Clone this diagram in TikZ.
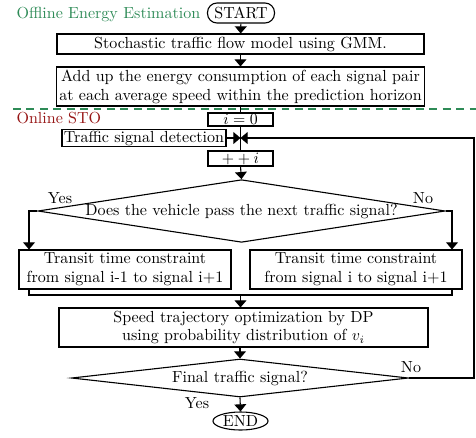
\documentclass[tikz,border=0pt]{standalone}
\usetikzlibrary{shapes.geometric,arrows.meta}
\definecolor{offgreen}{RGB}{46,139,87}
\definecolor{onred}{RGB}{150,20,20}
\def\pxu{0.633pt}
\begin{document}
\begin{tikzpicture}[x=0.633pt,y=-0.633pt, line width=0.7pt,
  every node/.style={font=\fontsize{10.15}{12}\selectfont},
  box/.style={draw, rectangle, inner sep=0pt, align=center},
  arr/.style={-{Triangle[width=7.5pt,length=4.5pt]}},
  dec/.style={draw, diamond, inner sep=0pt},
  lbl/.style={inner sep=0pt}]
\useasboundingbox (0,0) rectangle (476,437);
% labels of the two phases
\node[lbl, anchor=west, text=offgreen] (offl) at (16,14) {Offline Energy Estimation};
\node[lbl, anchor=west, text=onred] (onl) at (16,118.5) {Online STO};
\coordinate (dl) at (13,109);
\coordinate (dr) at (476,109);
\draw[offgreen, dashed, dash pattern=on 5pt off 3.5pt] (dl) -- (dr);
% nodes
\node[draw, rectangle, rounded corners=6pt, inner sep=0pt, minimum width=67*\pxu, minimum height=20*\pxu] (start) at (241,13) {START};
\node[box, minimum width=367*\pxu, minimum height=20*\pxu] (b1) at (240.5,44) {Stochastic traffic flow model using GMM.};
\node[box, minimum width=368*\pxu, minimum height=39*\pxu] (b2) at (240.5,86.5) {Add up the energy consumption of each signal pair\\at each average speed within the prediction horizon};
\node[box, minimum width=65*\pxu, minimum height=13*\pxu] (i0) at (240.5,119.5) {$i=0$};
\node[box, minimum width=164*\pxu, minimum height=17*\pxu] (tsd) at (144,138) {Traffic signal detection};
\coordinate (j) at (240.5,138);
\node[box, minimum width=65*\pxu, minimum height=15*\pxu] (pi) at (240.5,158.5) {$++i$};
\node[dec, minimum width=405*\pxu, minimum height=62*\pxu, aspect=6.5] (d1) at (241.5,211) {Does the vehicle pass the next traffic signal?};
\node[box, minimum width=212*\pxu, minimum height=39*\pxu] (L) at (125,269.5) {Transit time constraint\\from signal i-1 to signal i+1};
\node[box, minimum width=212*\pxu, minimum height=39*\pxu] (R) at (356,269.5) {Transit time constraint\\from signal i to signal i+1};
\node[box, minimum width=369*\pxu, minimum height=39*\pxu] (b3) at (243.5,327.5) {Speed trajectory optimization by DP\\using probability distribution of $v_i$};
\node[dec, minimum width=337*\pxu, minimum height=38*\pxu, aspect=8.8] (d2) at (240,378) {Final traffic signal?};
\node[draw, ellipse, inner sep=0pt, minimum width=55*\pxu, minimum height=18*\pxu] (end) at (240.5,421) {END};
% edge labels
\node[lbl] (yes1) at (60,198) {Yes};
\node[lbl] (no1) at (423,198) {No};
\node[lbl] (no2) at (411,367) {No};
\node[lbl] (yes2) at (197,403) {Yes};
% helper coordinates
\coordinate (lx) at (29,0);
\coordinate (rx) at (452,0);
\coordinate (jy) at (240.5,295);
\coordinate (lp) at (474,0);
% connectors
\draw[arr] (start) -- (b1);
\draw[arr] (b1) -- (b2);
\draw (b2.south) -- (i0.north);
\draw (i0.south) -- (pi.north);
\draw[arr] (tsd.east) -- (j);
\draw[arr] (pi.south) -- (d1.north);
\draw[arr] (d1.west) -| (lx |- L.north);
\draw[arr] (d1.east) -| (rx |- R.north);
\draw (lx |- L.south) -- (lx |- jy) -- (rx |- jy) -- (rx |- R.south);
\draw[arr] (jy) -- (jy |- b3.north);
\draw[arr] (b3.south -| d2.north) -- (d2.north);
\draw[arr] (d2.south) -- (end.north);
\draw[arr] (d2.east) -| (lp |- j) -- (j);
\end{tikzpicture}
\end{document}
